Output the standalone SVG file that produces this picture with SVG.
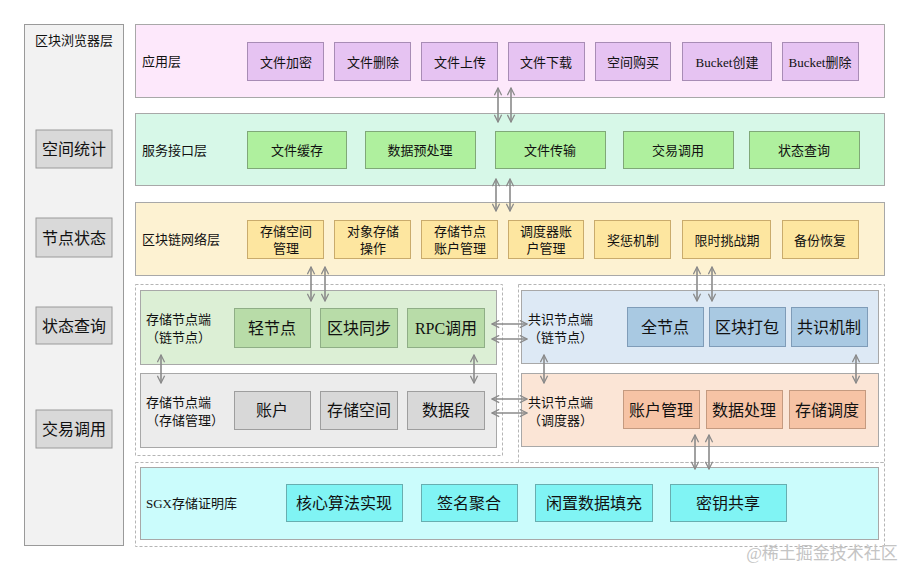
<svg xmlns="http://www.w3.org/2000/svg" width="909" height="571" viewBox="0 0 909 571">
<defs>
<marker id="ah" viewBox="0 0 10 10" refX="9" refY="5" markerWidth="9" markerHeight="9" markerUnits="userSpaceOnUse" orient="auto-start-reverse">
<path d="M1,1 L9,5 L1,9" fill="none" stroke="#8a8a8a" stroke-width="1.4"/>
</marker>
</defs>
<style>
text{font-family:"Liberation Serif","Noto Sans CJK SC",serif;fill:#111;}
.lbl{font-size:13px;}
.s{font-size:13px;text-anchor:middle;dominant-baseline:central;}
.m{font-size:16px;text-anchor:middle;dominant-baseline:central;}
.side{fill:#d9d9d9;stroke:#9a9a9a;stroke-width:1;}
.dash{fill:none;stroke:#b5b5b5;stroke-width:1;stroke-dasharray:3,2;}
.layer{stroke:#a8a8a8;stroke-width:1;}
.pk{fill:#e6c3f2;stroke:#a88cb5;}
.gr{fill:#aff09e;stroke:#80a878;}
.yl{fill:#fde6a0;stroke:#c9ab6c;}
.lg{fill:#b8dca8;stroke:#8fae86;}
.gy{fill:#d8d8d8;stroke:#9e9e9e;}
.bl{fill:#a9c9e2;stroke:#7f9cb8;}
.or{fill:#f6c3a5;stroke:#c49a80;}
.cy{fill:#80f4f4;stroke:#68aeb0;}
.cn line{stroke:#8a8a8a;stroke-width:1.6;marker-start:url(#ah);marker-end:url(#ah);}
</style>
<rect width="909" height="571" fill="#ffffff"/>

<g id="browser">
<rect x="24.5" y="24.5" width="99" height="521" fill="#f2f2f2" stroke="#9a9a9a"/>
<text x="74" y="40" class="s">区块浏览器层</text>
<g id="side1"><rect class="side" x="36" y="130" width="76" height="38"/><text x="74" y="149" class="m">空间统计</text></g>
<g id="side2"><rect class="side" x="36" y="218" width="76" height="39"/><text x="74" y="238" class="m">节点状态</text></g>
<g id="side3"><rect class="side" x="36" y="307" width="76" height="37"/><text x="74" y="326" class="m">状态查询</text></g>
<g id="side4"><rect class="side" x="36" y="410" width="76" height="38"/><text x="74" y="429" class="m">交易调用</text></g>
</g>

<g id="app">
<rect class="layer" x="135.5" y="24.5" width="749" height="73" fill="#fde8fb"/>
<text x="142" y="66" class="lbl">应用层</text>
<g id="a1"><rect class="pk" x="247.5" y="42.5" width="76" height="38"/><text x="286" y="62" class="s">文件加密</text></g>
<g id="a2"><rect class="pk" x="334.5" y="42.5" width="76" height="38"/><text x="373" y="62" class="s">文件删除</text></g>
<g id="a3"><rect class="pk" x="421.5" y="42.5" width="76" height="38"/><text x="460" y="62" class="s">文件上传</text></g>
<g id="a4"><rect class="pk" x="508.5" y="42.5" width="76" height="38"/><text x="546" y="62" class="s">文件下载</text></g>
<g id="a5"><rect class="pk" x="595.5" y="42.5" width="75" height="38"/><text x="633" y="62" class="s">空间购买</text></g>
<g id="a6"><rect class="pk" x="682.5" y="42.5" width="89" height="38"/><text x="727" y="62" class="s">Bucket创建</text></g>
<g id="a7"><rect class="pk" x="782.5" y="42.5" width="76" height="38"/><text x="820" y="62" class="s">Bucket删除</text></g>
</g>

<g id="service">
<rect class="layer" x="135.5" y="113.5" width="749" height="72" fill="#d7f8e8"/>
<text x="142" y="155" class="lbl">服务接口层</text>
<g id="s1"><rect class="gr" x="247.5" y="131.5" width="99" height="37"/><text x="297" y="150" class="s">文件缓存</text></g>
<g id="s2"><rect class="gr" x="365.5" y="131.5" width="110" height="37"/><text x="420" y="150" class="s">数据预处理</text></g>
<g id="s3"><rect class="gr" x="495.5" y="131.5" width="110" height="37"/><text x="550" y="150" class="s">文件传输</text></g>
<g id="s4"><rect class="gr" x="623.5" y="131.5" width="110" height="37"/><text x="678" y="150" class="s">交易调用</text></g>
<g id="s5"><rect class="gr" x="749.5" y="131.5" width="110" height="37"/><text x="804" y="150" class="s">状态查询</text></g>
</g>

<g id="chain">
<rect class="layer" x="135.5" y="202.5" width="749" height="73" fill="#fdf2d2"/>
<text x="142" y="244" class="lbl">区块链网络层</text>
<g id="c1"><rect class="yl" x="247.5" y="220.5" width="76" height="38"/><text x="286" y="231" class="s">存储空间</text><text x="286" y="248" class="s">管理</text></g>
<g id="c2"><rect class="yl" x="334.5" y="220.5" width="76" height="38"/><text x="373" y="231" class="s">对象存储</text><text x="373" y="248" class="s">操作</text></g>
<g id="c3"><rect class="yl" x="421.5" y="220.5" width="76" height="38"/><text x="460" y="231" class="s">存储节点</text><text x="460" y="248" class="s">账户管理</text></g>
<g id="c4"><rect class="yl" x="508.5" y="220.5" width="75" height="38"/><text x="546" y="231" class="s">调度器账</text><text x="546" y="248" class="s">户管理</text></g>
<g id="c5"><rect class="yl" x="594.5" y="220.5" width="76" height="38"/><text x="633" y="240" class="s">奖惩机制</text></g>
<g id="c6"><rect class="yl" x="682.5" y="220.5" width="88" height="38"/><text x="727" y="240" class="s">限时挑战期</text></g>
<g id="c7"><rect class="yl" x="782.5" y="220.5" width="76" height="38"/><text x="820" y="240" class="s">备份恢复</text></g>
</g>

<g id="groups">
<rect class="dash" x="135.5" y="284.5" width="367" height="171"/>
<rect class="dash" x="518.5" y="284.5" width="366" height="178"/>
<rect class="dash" x="135.5" y="462.5" width="749" height="84"/>
</g>

<g id="storage-chain">
<rect class="layer" x="140.5" y="290.5" width="356" height="74" fill="#dcefd5"/>
<text x="146" y="324" class="lbl">存储节点端</text>
<text x="146" y="342" class="lbl">（链节点）</text>
<g id="sc1"><rect class="lg" x="234.5" y="308.5" width="76" height="39"/><text x="272" y="328" class="m">轻节点</text></g>
<g id="sc2"><rect class="lg" x="320.5" y="308.5" width="77" height="39"/><text x="359" y="328" class="m">区块同步</text></g>
<g id="sc3"><rect class="lg" x="407.5" y="308.5" width="77" height="39"/><text x="446" y="328" class="m">RPC调用</text></g>
</g>

<g id="storage-mgmt">
<rect class="layer" x="140.5" y="373.5" width="356" height="74" fill="#ececec"/>
<text x="146" y="407" class="lbl">存储节点端</text>
<text x="146" y="425" class="lbl">（存储管理）</text>
<g id="sm1"><rect class="gy" x="234.5" y="391.5" width="76" height="38"/><text x="272" y="410" class="m">账户</text></g>
<g id="sm2"><rect class="gy" x="320.5" y="391.5" width="77" height="38"/><text x="359" y="410" class="m">存储空间</text></g>
<g id="sm3"><rect class="gy" x="407.5" y="391.5" width="77" height="38"/><text x="446" y="410" class="m">数据段</text></g>
</g>

<g id="cons-chain">
<rect class="layer" x="521.5" y="290.5" width="357" height="73" fill="#dde9f5"/>
<text x="528" y="324" class="lbl">共识节点端</text>
<text x="528" y="342" class="lbl">（链节点）</text>
<g id="cc1"><rect class="bl" x="627.5" y="307.5" width="76" height="39"/><text x="665" y="327" class="m">全节点</text></g>
<g id="cc2"><rect class="bl" x="709.5" y="307.5" width="76" height="39"/><text x="747" y="327" class="m">区块打包</text></g>
<g id="cc3"><rect class="bl" x="791.5" y="307.5" width="76" height="39"/><text x="829" y="327" class="m">共识机制</text></g>
</g>

<g id="cons-sched">
<rect class="layer" x="521.5" y="373.5" width="357" height="73" fill="#fbe5d6"/>
<text x="528" y="407" class="lbl">共识节点端</text>
<text x="528" y="425" class="lbl">（调度器）</text>
<g id="cs1"><rect class="or" x="623.5" y="390.5" width="76" height="38"/><text x="661" y="410" class="m">账户管理</text></g>
<g id="cs2"><rect class="or" x="706.5" y="390.5" width="76" height="38"/><text x="744" y="410" class="m">数据处理</text></g>
<g id="cs3"><rect class="or" x="789.5" y="390.5" width="76" height="38"/><text x="827" y="410" class="m">存储调度</text></g>
</g>

<g id="sgx">
<rect class="layer" x="140.5" y="467.5" width="738" height="72" fill="#cbfcfc"/>
<text x="146" y="508" class="lbl">SGX存储证明库</text>
<g id="g1"><rect class="cy" x="286.5" y="484.5" width="116" height="37"/><text x="344" y="503" class="m">核心算法实现</text></g>
<g id="g2"><rect class="cy" x="421.5" y="484.5" width="96" height="37"/><text x="469" y="503" class="m">签名聚合</text></g>
<g id="g3"><rect class="cy" x="535.5" y="484.5" width="117" height="37"/><text x="594" y="503" class="m">闲置数据填充</text></g>
<g id="g4"><rect class="cy" x="670.5" y="484.5" width="116" height="37"/><text x="728" y="503" class="m">密钥共享</text></g>
</g>

<g id="connectors" class="cn">
<line x1="498" y1="88" x2="498" y2="122"/>
<line x1="511" y1="88" x2="511" y2="122"/>
<line x1="496" y1="179" x2="496" y2="211"/>
<line x1="510" y1="179" x2="510" y2="211"/>
<line x1="311" y1="267" x2="311" y2="301"/>
<line x1="325" y1="267" x2="325" y2="301"/>
<line x1="697" y1="267" x2="697" y2="301"/>
<line x1="712" y1="267" x2="712" y2="301"/>
<line x1="161" y1="355" x2="161" y2="383"/>
<line x1="474" y1="355" x2="474" y2="383"/>
<line x1="544" y1="355" x2="544" y2="383"/>
<line x1="856" y1="355" x2="856" y2="383"/>
<line x1="492" y1="324" x2="527" y2="324"/>
<line x1="492" y1="339" x2="527" y2="339"/>
<line x1="492" y1="399" x2="527" y2="399"/>
<line x1="492" y1="413" x2="527" y2="413"/>
<line x1="695" y1="435" x2="695" y2="469"/>
<line x1="709" y1="435" x2="709" y2="469"/>
</g>

<text x="822" y="553" style="font-size:17px;text-anchor:middle;dominant-baseline:central;fill:#c4c4c4;">@稀土掘金技术社区</text>
</svg>
